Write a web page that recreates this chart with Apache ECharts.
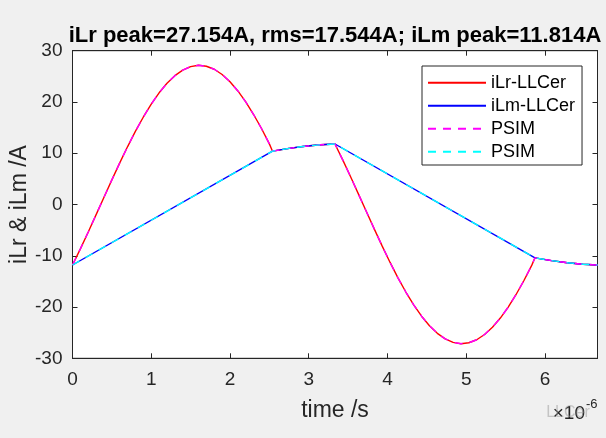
<!DOCTYPE html>
<html>
<head>
<meta charset="utf-8">
<script src="https://cdn.jsdelivr.net/npm/echarts@6/dist/echarts.min.js"></script>
<style>
html,body{margin:0;padding:0;background:#f0f0f0;}
#chart{width:606px;height:438px;}
</style>
</head>
<body>
<div id="chart"></div>
<script>
// ---- data (time in microseconds, current in A) ----
const chartTitle = 'iLr peak=27.154A, rms=17.544A; iLm peak=11.814A';
const xTickLabels = ['0', '1', '2', '3', '4', '5', '6'];
const yTickLabels = ['-30', '-20', '-10', '0', '10', '20', '30'];

const iLrTime = [0, 0.1, 0.2, 0.3, 0.4, 0.5, 0.6, 0.7, 0.8, 0.9, 1.0, 1.1, 1.2, 1.3, 1.4, 1.5, 1.6, 1.7, 1.8, 1.9, 2.0, 2.1, 2.2, 2.3, 2.4, 2.5, 2.54,
  2.75, 2.95, 3.15, 3.333,
  3.433, 3.533, 3.633, 3.733, 3.833, 3.933, 4.033, 4.133, 4.233, 4.333, 4.433, 4.533, 4.633, 4.733, 4.833, 4.933, 5.033, 5.133, 5.233, 5.333, 5.433, 5.533, 5.633, 5.733, 5.833, 5.873,
  6.083, 6.283, 6.483, 6.667];
const iLrValues = [-11.80, -8.65, -5.36, -1.98, 1.43, 4.81, 8.12, 11.30, 14.31, 17.07, 19.59, 21.79, 23.64, 25.13, 26.22, 26.90, 27.15, 26.97, 26.38, 25.36, 23.94, 22.15, 20.01, 17.55, 14.83, 11.83, 10.40,
  10.95, 11.35, 11.65, 11.80,
  8.65, 5.36, 1.98, -1.43, -4.81, -8.12, -11.30, -14.31, -17.07, -19.59, -21.79, -23.64, -25.13, -26.22, -26.90, -27.15, -26.97, -26.38, -25.36, -23.94, -22.15, -20.01, -17.55, -14.83, -11.83, -10.40,
  -10.95, -11.35, -11.65, -11.80];

const iLmTime = [0, 2.54, 2.75, 2.95, 3.15, 3.333, 5.873, 6.083, 6.283, 6.483, 6.667];
const iLmValues = [-11.80, 10.40, 10.95, 11.35, 11.65, 11.80, -10.40, -10.95, -11.35, -11.65, -11.80];

// PSIM results overlay the model curves
const psimLrTime = iLrTime;
const psimLrValues = iLrValues;
const psimLmTime = iLmTime;
const psimLmValues = iLmValues;

const pairs = (xs, ys) => xs.map((x, i) => [x, ys[i]]);

const FONT = '"Liberation Sans", Arial, Helvetica, sans-serif';
const AX = '#262626';

const chart = echarts.init(document.getElementById('chart'));

const baseX = {
  type: 'value', min: 0, max: 6.667, interval: 1,
  axisLine: { show: true, onZero: false, lineStyle: { color: AX, width: 1 } },
  axisTick: { show: true, inside: true, length: 5, lineStyle: { color: AX } },
  splitLine: { show: false }
};
const baseY = {
  type: 'value', min: -30, max: 30, interval: 10,
  axisLine: { show: true, onZero: false, lineStyle: { color: AX, width: 1 } },
  axisTick: { show: true, inside: true, length: 5, lineStyle: { color: AX } },
  splitLine: { show: false }
};

chart.setOption({
  backgroundColor: '#f0f0f0',
  animation: false,
  grid: { left: 72.5, right: 8.5, top: 50.7, bottom: 79.7, containLabel: false, outerBoundsMode: 'none',
    show: true, backgroundColor: '#ffffff', borderColor: AX, borderWidth: 1 },
  xAxis: [
    Object.assign({}, baseX, {
      position: 'bottom',
      name: 'time /s', nameLocation: 'middle', nameGap: 41, nameMoveOverlap: false,
      nameTextStyle: { fontFamily: FONT, fontSize: 23, color: AX },
      axisLabel: {
        show: true, margin: 12, fontFamily: FONT, fontSize: 19, color: AX, showMaxLabel: false,
        formatter: v => { const i = Math.round(v); return Math.abs(v - i) < 1e-6 && xTickLabels[i] !== undefined ? xTickLabels[i] : ''; }
      }
    }),
    Object.assign({}, baseX, { position: 'top', axisLabel: { show: false } })
  ],
  yAxis: [
    Object.assign({}, baseY, {
      position: 'left',
      name: 'iLr & iLm /A', nameLocation: 'middle', nameGap: 41, nameRotate: 90, nameMoveOverlap: false,
      nameTextStyle: { fontFamily: FONT, fontSize: 23, color: AX },
      axisLabel: {
        show: true, margin: 10, fontFamily: FONT, fontSize: 19, color: AX,
        formatter: v => { const i = Math.round((v + 30) / 10); return yTickLabels[i] !== undefined ? yTickLabels[i] : ''; }
      }
    }),
    Object.assign({}, baseY, { position: 'right', axisLabel: { show: false } })
  ],
  legend: {
    orient: 'vertical', left: 422, top: 66,
    padding: [6.7, 7, 3.3, 5],
    backgroundColor: '#ffffff', borderColor: AX, borderWidth: 1, borderRadius: 0,
    itemWidth: 58, itemHeight: 14, itemGap: 3,
    itemStyle: { opacity: 0 },
    textStyle: { fontFamily: FONT, fontSize: 18, color: '#000', lineHeight: 20 },
    formatter: name => name.trim(),
    data: ['iLr-LLCer', 'iLm-LLCer', 'PSIM', 'PSIM ']
  },
  series: [
    { name: 'iLr-LLCer', type: 'line', xAxisIndex: 0, yAxisIndex: 0, data: pairs(iLrTime, iLrValues), symbol: 'none',
      lineStyle: { color: '#ff0000', width: 1.4 }, itemStyle: { color: '#ff0000' } },
    { name: 'iLm-LLCer', type: 'line', xAxisIndex: 0, yAxisIndex: 0, data: pairs(iLmTime, iLmValues), symbol: 'none',
      lineStyle: { color: '#0000ff', width: 1.4 }, itemStyle: { color: '#0000ff' } },
    { name: 'PSIM', type: 'line', xAxisIndex: 0, yAxisIndex: 0, data: pairs(psimLrTime, psimLrValues), symbol: 'none',
      lineStyle: { color: '#ff00ff', width: 1.4, type: [8, 7] }, itemStyle: { color: '#ff00ff' } },
    { name: 'PSIM ', type: 'line', xAxisIndex: 0, yAxisIndex: 0, data: pairs(psimLmTime, psimLmValues), symbol: 'none',
      lineStyle: { color: '#00ffff', width: 1.4, type: [8, 7] }, itemStyle: { color: '#00ffff' } }
  ],
  graphic: [
    { type: 'text', x: 335, y: 36, style: { text: chartTitle, font: 'bold 22px ' + FONT, fill: '#000', align: 'center', verticalAlign: 'middle' } },
    { type: 'text', x: 585, y: 414, style: { text: '×10', font: '19px ' + FONT, fill: AX, align: 'right', verticalAlign: 'middle' } },
    { type: 'text', x: 586, y: 404, style: { text: '-6', font: '13px ' + FONT, fill: AX, align: 'left', verticalAlign: 'middle' } },
    { type: 'text', x: 568, y: 413, style: { text: 'LLCer', font: '16px ' + FONT, fill: 'rgba(160,160,160,0.55)', align: 'center', verticalAlign: 'middle' } }
  ]
});
</script>
</body>
</html>
